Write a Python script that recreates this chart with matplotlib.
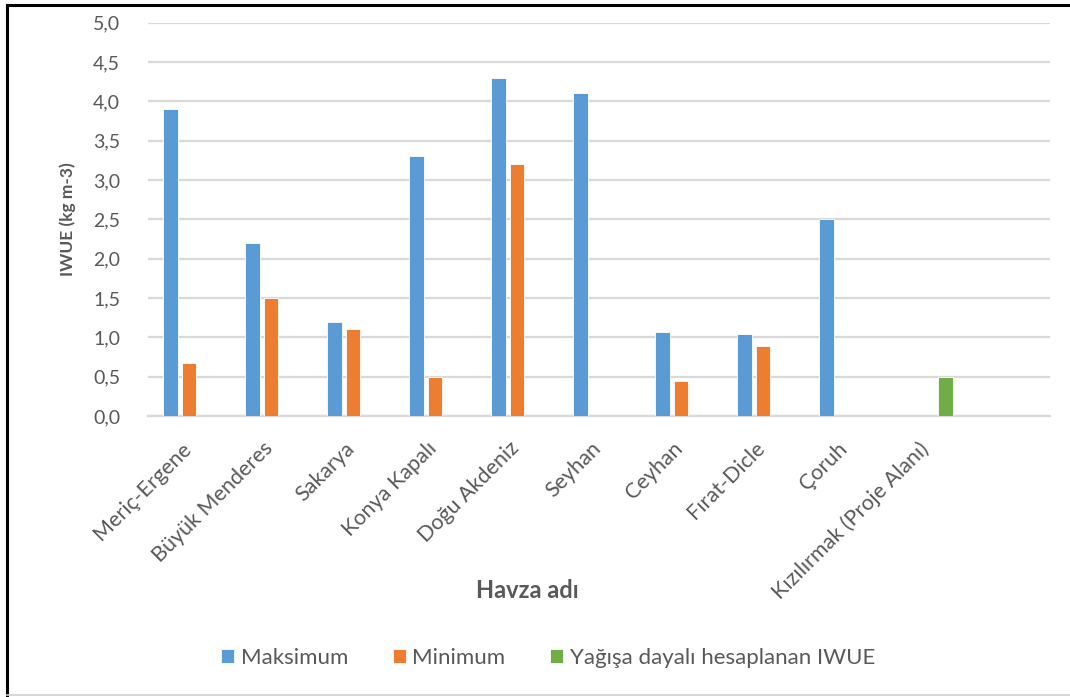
import numpy as np
import matplotlib
matplotlib.use("Agg")
import matplotlib.pyplot as plt
from matplotlib.lines import Line2D

plt.rcParams['font.family'] = ['Lato', 'DejaVu Sans']

# basins (the last slot is an empty category)
basins = ["Meriç-Ergene", "Büyük Menderes", "Sakarya", "Konya Kapalı",
          "Doğu Akdeniz", "Seyhan", "Ceyhan", "Fırat-Dicle", "Çoruh",
          "Kızılırmak (Proje Alanı)", ""]
iwue_max = [3.9, 2.2, 1.2, 3.3, 4.3, 4.1, 1.07, 1.04, 2.5, np.nan, np.nan]
iwue_min = [0.67, 1.5, 1.1, 0.5, 3.2, np.nan, 0.45, 0.89, np.nan, np.nan, np.nan]
iwue_rain = [np.nan] * 9 + [0.5, np.nan]
series_names = ["Maksimum", "Minimum", "Yağışa dayalı hesaplanan IWUE"]
yticks = np.arange(0, 5.01, 0.5)

BLUE, ORANGE, GREEN = "#5B9BD5", "#ED7D31", "#70AD47"
TXT, GRID = "#595959", "#D9D9D9"

W, H = 1070, 697
fig = plt.figure(figsize=(W / 100, H / 100), dpi=100)
ax = fig.add_axes([148 / W, (H - 416) / H, (1050 - 148) / W, (416 - 22.7) / H])

x = np.arange(len(basins))
step, bw = 0.225, 0.18
series = [iwue_max, iwue_min, iwue_rain]
colors = [BLUE, ORANGE, GREEN]
for i, (vals, c, name) in enumerate(zip(series, colors, series_names)):
    ax.bar(x + (i - 1) * step, vals, width=bw, color=c, edgecolor="white",
           linewidth=0.6, label=name, zorder=3)

ax.set_xlim(-0.5, len(basins) - 0.5)
ax.set_ylim(0, 5)
ax.set_yticks(yticks)
ax.set_yticklabels([f"{v:.1f}".replace(".", ",") for v in yticks],
                   fontsize=14, color=TXT)
ax.yaxis.grid(True, color=GRID, linewidth=1.6, zorder=0)
ax.tick_params(axis="y", length=0, pad=20)
ax.tick_params(axis="x", length=0, pad=16)
ax.set_xticks(x - 0.1)
ax.set_xticklabels(basins, rotation=45, ha="right", rotation_mode="anchor",
                   fontsize=15.5, color=TXT)
for s in ["top", "right", "left"]:
    ax.spines[s].set_visible(False)
ax.spines["bottom"].set_color(GRID)
ax.spines["bottom"].set_linewidth(1.6)

ax.set_ylabel("IWUE (kg m-3)", fontsize=12.5, fontweight="bold", color=TXT)
ax.yaxis.set_label_coords(-72 / (1050 - 148), 0.5)
fig.text(527 / W, 1 - 590 / H, "Havza adı", ha="center", va="center",
         fontsize=17, fontweight="bold", color=TXT)

handles, labels = ax.get_legend_handles_labels()
fig.legend(handles, labels, loc="center", bbox_to_anchor=(548 / W, 1 - 658 / H),
           ncol=3, frameon=False, fontsize=16, handlelength=0.6,
           handleheight=0.6, handletextpad=0.3, columnspacing=2.0,
           labelcolor=TXT)

# frame around the chart
fig.add_artist(Line2D([7 / W, 7 / W], [1 - 5 / H, 1 - 695 / H], color="black", lw=2.2))
fig.add_artist(Line2D([7 / W, 1], [1 - 5 / H, 1 - 5 / H], color="black", lw=2.2))
fig.add_artist(Line2D([7 / W, 1], [1 - 695 / H, 1 - 695 / H], color="#D0D0D0", lw=1.2))

fig.savefig("out.png", dpi=100, facecolor="white")
